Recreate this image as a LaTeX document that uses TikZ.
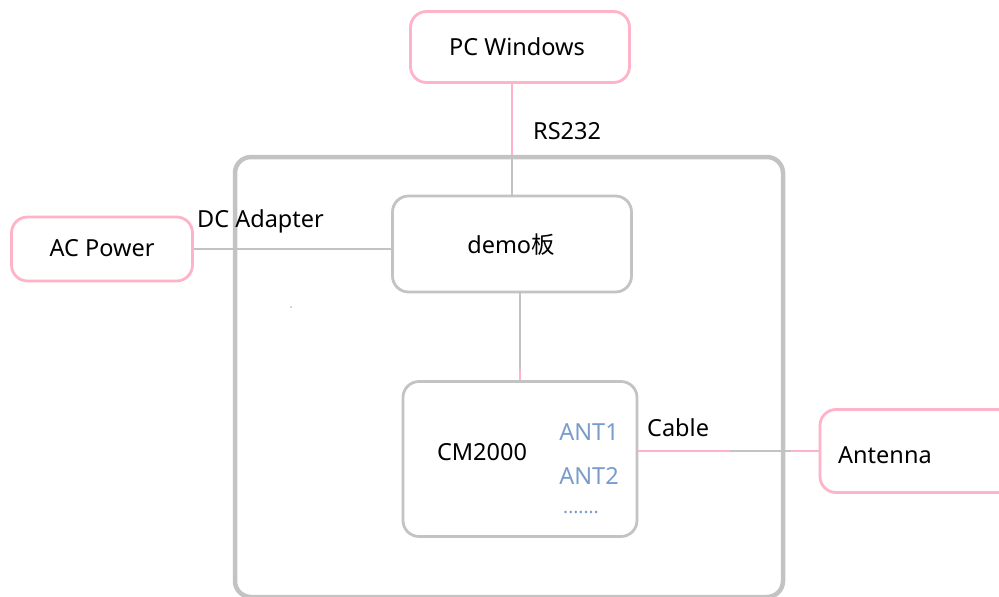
\documentclass[tikz,border=0pt]{standalone}
\usepackage{fontspec}
\setmainfont{Noto Sans}
\newfontfamily\cjk{Noto Sans CJK SC}
\definecolor{pk}{HTML}{FFB3C9}
\definecolor{gr}{HTML}{C3C3C3}
\definecolor{bl}{HTML}{7A9CCB}
\begin{document}
\begin{tikzpicture}[x=1pt,y=-1pt,
  pkbox/.style={draw=pk,line width=2.8pt,rounded corners=16pt,inner sep=0pt},
  grbox/.style={draw=gr,line width=2.8pt,rounded corners=16pt,inner sep=0pt},
  txt/.style={font=\fontsize{23.5}{28}\selectfont,inner sep=0pt},
  bltxt/.style={txt,text=bl},
  pkline/.style={draw=pk,line width=2.8pt},
  grline/.style={draw=gr,line width=2.8pt}]
\useasboundingbox (0,0) rectangle (999,597);
% container
\node[grbox,line width=4.5pt,minimum width=548pt,minimum height=440pt] (cont) at (509,377) {};
% boxes
\node[pkbox,minimum width=219pt,minimum height=71pt] (pc) at (520,47) {};
\node[txt] (pct) at (517,47) {PC Windows};
\node[pkbox,minimum width=181pt,minimum height=64pt] (ac) at (102,249) {};
\node[txt] (act) at (102,248) {AC Power};
\node[grbox,minimum width=239pt,minimum height=96pt] (demo) at (512,244) {};
\node[txt] (demot) at (511,245) {demo{\cjk 板}};
\node[grbox,minimum width=234pt,minimum height=155pt] (cm) at (520,459) {};
\node[txt] (cmt) at (482,452) {CM2000};
\node[bltxt] (a1) at (589,432) {ANT1};
\node[bltxt] (a2) at (589,476) {ANT2};
\node[bltxt,font=\fontsize{19}{22}\selectfont] (dots) at (581,512) {.......};
\node[pkbox,minimum width=200pt,minimum height=83pt] (ant) at (920,451) {};
\node[txt,anchor=west] (antt) at (838,455) {Antenna};
% connectors
\coordinate (rsj) at (demo.north |- cont.north);
\draw[pkline] (demo.north |- pc.south) -- (rsj);
\draw[grline] (rsj) -- (demo.north);
\node[txt,anchor=west] (rs) at (533,131) {RS232};
\draw[grline] (ac.east) -- (ac.east -| demo.west);
\node[txt,anchor=west] (dc) at (197,221) {DC Adapter};
\coordinate (cmj) at (520,370);
\draw[grline] (cm.north |- demo.south) -- (cmj);
\draw[pkline] (cmj) -- (cm.north);
\coordinate (cb1) at (730,451);
\coordinate (cb2) at (791,451);
\draw[pkline] (ant.west -| cm.east) -- (cb1);
\draw[grline] (cb1) -- (cb2);
\draw[pkline] (cb2) -- (ant.west);
\node[txt,anchor=west] (cab) at (647,428) {Cable};
\fill[gr] (291,307) circle (1.2pt);
\end{tikzpicture}
\end{document}
